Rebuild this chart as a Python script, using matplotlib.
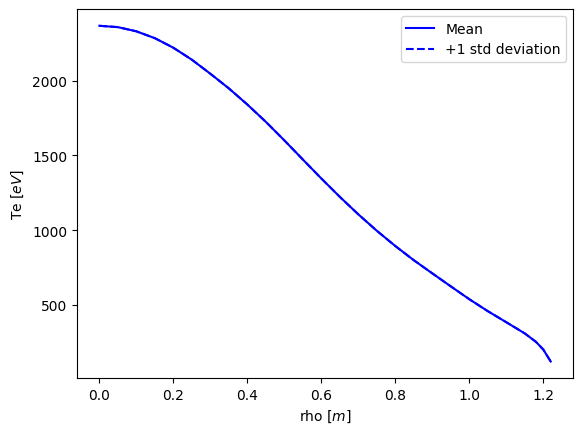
#!/usr/bin/env python3
import matplotlib
matplotlib.use('Agg')
import matplotlib.pyplot as plt

# profile
rho = [0.0, 0.05, 0.10, 0.15, 0.20, 0.25, 0.30, 0.35, 0.40, 0.45, 0.50, 0.55,
       0.60, 0.65, 0.70, 0.75, 0.80, 0.85, 0.90, 0.95, 1.00, 1.05, 1.10, 1.15,
       1.18, 1.20, 1.22]
te_mean = [2367, 2358, 2330, 2284, 2220, 2140, 2046, 1948, 1840, 1724, 1600, 1472,
           1345, 1222, 1105, 995, 893, 798, 710, 623, 537, 457, 383, 308,
           252, 200, 120]
# +1 std curve sits on top of the mean in the picture
te_upper = [2367, 2358, 2330, 2284, 2220, 2140, 2046, 1948, 1840, 1724, 1600, 1472,
            1345, 1222, 1105, 995, 893, 798, 710, 623, 537, 457, 383, 308,
            252, 200, 120]

fig = plt.figure(figsize=(5.82, 4.35), dpi=100)
ax = fig.add_subplot(111)
fig.subplots_adjust(left=0.132, right=0.985, top=0.977, bottom=0.128)

ax.plot(rho, te_mean, color='blue', linestyle='-', label='Mean')
ax.plot(rho, te_upper, color='blue', linestyle='--', label='+1 std deviation')

ax.set_xlabel('rho [$m$]')
ax.set_ylabel('Te [$eV$]')
ax.legend(loc='upper right')

fig.savefig('out.png', dpi=100)
